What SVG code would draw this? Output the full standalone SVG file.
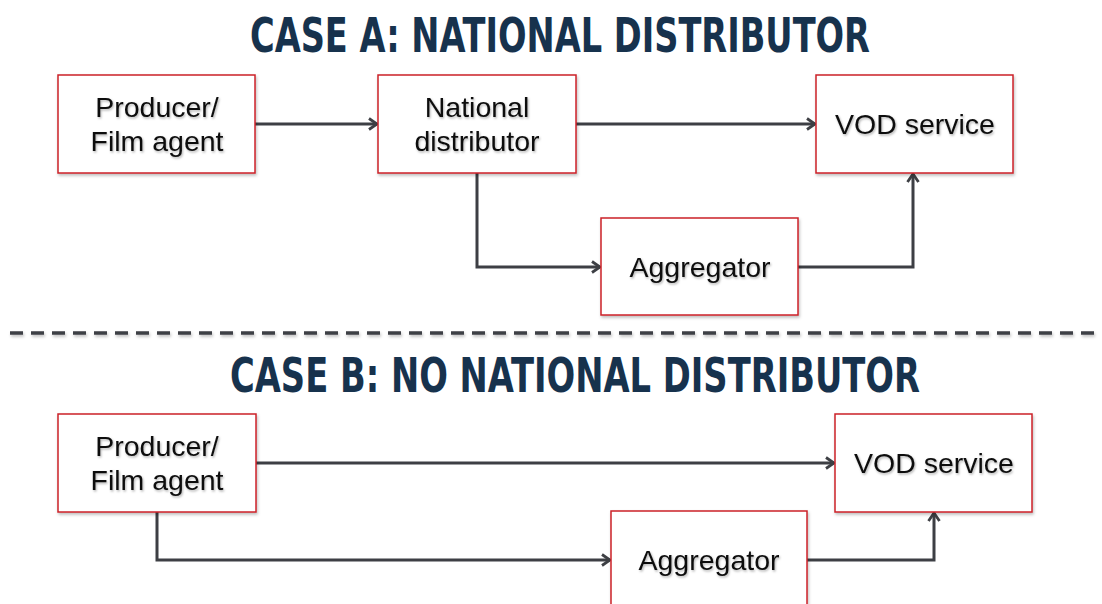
<svg xmlns="http://www.w3.org/2000/svg" width="1102" height="604" viewBox="0 0 1102 604">
<defs>
<marker id="arr" viewBox="0 0 14 14" refX="12" refY="7" markerWidth="14" markerHeight="14" markerUnits="userSpaceOnUse" orient="auto">
<path d="M4,1.5 L12,7 L4,12.5" fill="none" stroke="#3d3f44" stroke-width="2.8" stroke-linejoin="miter"/>
</marker>
<filter id="sh" x="-10%" y="-10%" width="130%" height="140%">
<feDropShadow dx="1" dy="2" stdDeviation="1.5" flood-color="#000" flood-opacity="0.25"/>
</filter>
<filter id="lsh" filterUnits="userSpaceOnUse" x="0" y="320" width="1102" height="30">
<feDropShadow dx="1" dy="2" stdDeviation="1.5" flood-color="#000" flood-opacity="0.25"/>
</filter>
<filter id="tsh" x="-10%" y="-20%" width="130%" height="150%">
<feDropShadow dx="1" dy="1.5" stdDeviation="1" flood-color="#000" flood-opacity="0.3"/>
</filter>
</defs>
<style>
.box{fill:#fff;stroke:#cc2229;stroke-width:1.5;filter:url(#sh)}
.lbl{font-family:"Liberation Sans",Arial,sans-serif;font-size:28.5px;fill:#111;text-anchor:middle;filter:url(#tsh)}
.title{font-family:"DejaVu Sans Condensed","Liberation Sans Narrow",sans-serif;font-weight:bold;font-size:48px;fill:#17324d;text-anchor:middle}
.con{fill:none;stroke:#3d3f44;stroke-width:3;marker-end:url(#arr)}
</style>
<rect width="1102" height="604" fill="#fff"/>
<text class="title" x="560" y="52" textLength="620" lengthAdjust="spacingAndGlyphs">CASE A: NATIONAL DISTRIBUTOR</text>
<text class="title" x="575" y="392" textLength="690" lengthAdjust="spacingAndGlyphs">CASE B: NO NATIONAL DISTRIBUTOR</text>
<line x1="10" y1="333" x2="1102" y2="333" stroke="#3d3f44" stroke-width="3.5" stroke-dasharray="13,8" filter="url(#lsh)"/>
<g id="connectors">
<path class="con" d="M255,124 H377"/>
<path class="con" d="M576,124 H815"/>
<path class="con" d="M477,173 V267 H600"/>
<path class="con" d="M798,267 H913 V174"/>
<path class="con" d="M256,463 H834"/>
<path class="con" d="M157,512 V560 H610"/>
<path class="con" d="M807,560 H934 V513"/>
</g>
<g id="a-producer"><rect class="box" x="58" y="75" width="197" height="98"/><text class="lbl" x="157" y="117">Producer/</text><text class="lbl" x="157" y="151">Film agent</text></g>
<g id="a-national"><rect class="box" x="378" y="75" width="198" height="98"/><text class="lbl" x="477" y="117">National</text><text class="lbl" x="477" y="151">distributor</text></g>
<g id="a-vod"><rect class="box" x="816" y="75" width="197" height="98"/><text class="lbl" x="915" y="134">VOD service</text></g>
<g id="a-aggregator"><rect class="box" x="601" y="218" width="197" height="97"/><text class="lbl" x="700" y="277">Aggregator</text></g>
<g id="b-producer"><rect class="box" x="58" y="414" width="198" height="98"/><text class="lbl" x="157" y="456">Producer/</text><text class="lbl" x="157" y="490">Film agent</text></g>
<g id="b-vod"><rect class="box" x="835" y="414" width="197" height="98"/><text class="lbl" x="934" y="473">VOD service</text></g>
<g id="b-aggregator"><rect class="box" x="611" y="511" width="196" height="100"/><text class="lbl" x="709" y="570">Aggregator</text></g>
</svg>
